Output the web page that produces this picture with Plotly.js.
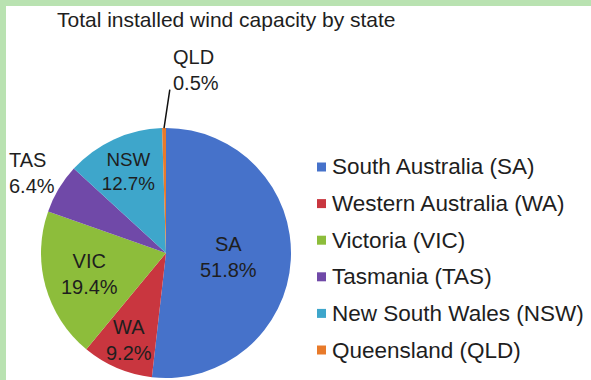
<!DOCTYPE html>
<html>
<head>
<meta charset="utf-8">
<script src="https://cdn.plot.ly/plotly-3.0.1.min.js"></script>
<style>
  html, body { margin: 0; padding: 0; background: #ffffff; }
  #frame {
    width: 585px; height: 374px;
    border-left: 6px solid #b9e2b1;
    border-top: 6px solid #b9e2b1;
    background: #ffffff;
  }
  #chart { width: 585px; height: 374px; }
</style>
</head>
<body>
<div id="frame"><div id="chart"></div></div>
<script>
// Share of total installed wind capacity, by state (%)
const states = ['South Australia (SA)', 'Western Australia (WA)', 'Victoria (VIC)',
                'Tasmania (TAS)', 'New South Wales (NSW)', 'Queensland (QLD)'];
const codes = ['SA', 'WA', 'VIC', 'TAS', 'NSW', 'QLD'];
const shares = [51.8, 9.2, 19.4, 6.4, 12.7, 0.5];
const sliceColors = ['#4672ca', '#c9363f', '#8dbd3b', '#7049a8', '#3ea6cb', '#e87a2a'];

const W = 585, H = 374;
const FONT = 'Liberation Sans, Arial, sans-serif';
const INK = '#1e1e1e';

// pixel -> paper helpers
const px = x => x / W;
const py = y => 1 - y / H;

// pie geometry (pixels inside the chart div)
const cx = 160, cy = 247, R = 125;

// labels placed by hand: TAS/QLD outside, WA kept full size inside its narrow slice
const manual = ['WA', 'TAS', 'QLD'];
const textpos = codes.map(c => manual.includes(c) ? 'none' : 'inside');

const total = shares.reduce((a, b) => a + b, 0);
function midAngle(i) {
  let before = 0;
  for (let k = 0; k < i; k++) before += shares[k];
  return (before + shares[i] / 2) / total * 2 * Math.PI; // clockwise from 12 o'clock
}
function pointAt(i, rf) {
  const a = midAngle(i);
  return [cx + rf * R * Math.sin(a), cy - rf * R * Math.cos(a)];
}
const labelText = i => codes[i] + '<br>' + shares[i].toFixed(1) + '%';

const annotations = [];
const shapes = [];

function sliceLabel(code, rf, align) {
  const i = codes.indexOf(code);
  const p = pointAt(i, rf);
  annotations.push({
    xref: 'paper', yref: 'paper', x: px(p[0]), y: py(p[1]),
    xanchor: 'center', yanchor: 'middle', showarrow: false,
    text: labelText(i), align: align,
    font: {family: FONT, size: 20, color: INK}
  });
}
sliceLabel('WA', 0.76, 'center');
sliceLabel('TAS', 1.25, 'left');

// QLD label above the pie, with a leader line to its sliver
const iQ = codes.indexOf('QLD');
const pQ = pointAt(iQ, 1.0);
annotations.push({
  xref: 'paper', yref: 'paper', x: px(pQ[0]), y: py(pQ[1]),
  text: '', showarrow: true, arrowhead: 0, arrowwidth: 1.5, arrowcolor: '#111111',
  ax: 6, ay: -40
});
annotations.push({
  xref: 'paper', yref: 'paper', x: px(pQ[0] + 32), y: py(pQ[1] - 58),
  xanchor: 'center', yanchor: 'middle', showarrow: false,
  text: labelText(iQ), align: 'left',
  font: {family: FONT, size: 20, color: INK}
});

// Legend: coloured square keys with state names
const legX = 311, legY0 = 161, legStep = 36.6, key = 9;
states.forEach((name, i) => {
  const y = legY0 + i * legStep;
  shapes.push({
    type: 'rect', xref: 'paper', yref: 'paper',
    x0: px(legX), x1: px(legX + key), y0: py(y - key / 2), y1: py(y + key / 2),
    fillcolor: sliceColors[i], line: {width: 0}
  });
  annotations.push({
    xref: 'paper', yref: 'paper', x: px(legX + key + 4), y: py(y),
    xanchor: 'left', yanchor: 'middle', showarrow: false,
    text: name, font: {family: FONT, size: 22.5, color: INK}
  });
});

const trace = {
  type: 'pie',
  values: shares,
  labels: codes,
  sort: false,
  direction: 'clockwise',
  rotation: 0,
  marker: {colors: sliceColors, line: {width: 0}},
  texttemplate: '%{label}<br>%{value:.1f}%',
  textposition: textpos,
  insidetextorientation: 'horizontal',
  insidetextfont: {family: FONT, size: 20, color: INK},
  hoverinfo: 'label+percent',
  domain: {x: [px(cx - R), px(cx + R)], y: [py(cy + R), py(cy - R)]},
  showlegend: false
};

const layout = {
  width: W, height: H,
  margin: {l: 0, r: 0, t: 0, b: 0, pad: 0},
  paper_bgcolor: '#ffffff',
  plot_bgcolor: '#ffffff',
  showlegend: false,
  title: {
    text: 'Total installed wind capacity by state',
    x: 51 / W, xanchor: 'left', y: 1 - 14 / H, yanchor: 'middle',
    font: {family: FONT, size: 21, color: INK}
  },
  annotations: annotations,
  shapes: shapes
};

Plotly.newPlot('chart', [trace], layout, {displayModeBar: false, staticPlot: true});
</script>
</body>
</html>
